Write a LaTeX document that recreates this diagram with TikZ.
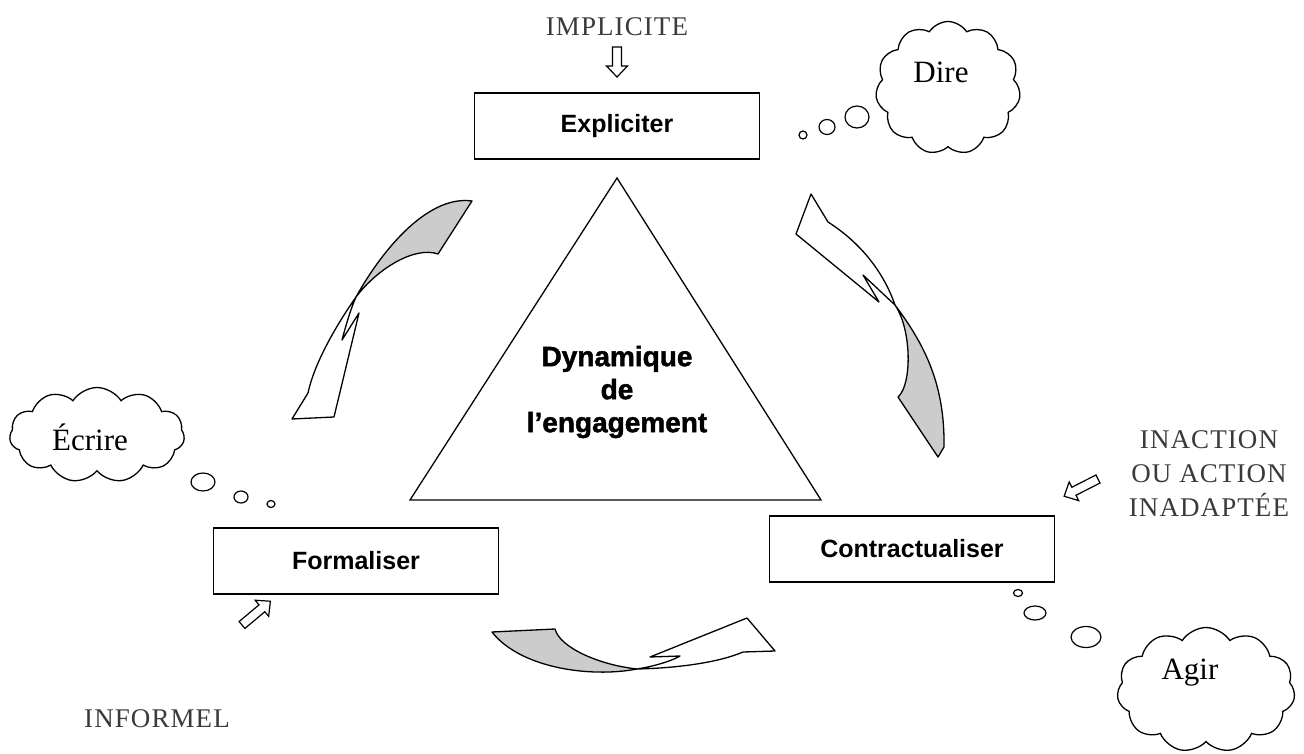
\documentclass[tikz,border=0pt]{standalone}
\usepackage{fontspec}
\setmainfont{Liberation Serif}
\newfontfamily\boxfont{Liberation Sans}
\newfontfamily\heavyfont[FakeBold=1.6]{Liberation Sans Bold}
\newfontfamily\capfont[LetterSpace=4]{Liberation Serif}
\usepackage{xcolor}
\usepackage{tikz}
\usetikzlibrary{shapes.symbols}
\definecolor{bg}{HTML}{FFFFFF}
\definecolor{ink}{HTML}{000000}
\definecolor{backgray}{HTML}{CCCCCC}
\definecolor{capgray}{HTML}{3A3A3A}
\tikzset{
  stage/.style={draw=ink, line width=1.3pt, minimum width=285pt, minimum height=66pt, inner sep=0pt, font=\boxfont\bfseries\fontsize{25}{29}\selectfont},
  core/.style={align=center, font=\heavyfont\fontsize{28}{33}\selectfont},
  thought/.style={cloud, draw=ink, line width=1.3pt, cloud puffs=11, cloud puff arc=115, aspect=1.2, inner sep=0pt},
  bubble/.style={draw=ink, line width=1.2pt},
  say/.style={font=\fontsize{31}{36}\selectfont},
  margtext/.style={text=capgray, align=center, font=\capfont\fontsize{27}{34}\selectfont},
  ribbonback/.style={draw=ink, fill=backgray, line width=1.3pt, line join=round},
  ribbonfront/.style={draw=ink, fill=bg, line width=1.3pt, line join=round},
  hollow/.pic={\draw[line width=1.2pt] (0,-4.5) -- (#1-11,-4.5) -- (#1-11,-10.5) -- (#1,0) -- (#1-11,10.5) -- (#1-11,4.5) -- (0,4.5) -- cycle;}
}

\begin{document}
\begin{tikzpicture}[x=1pt, y=-1pt]
  \useasboundingbox[fill=bg] (0,0) rectangle (1304,754);
  % stages
  \node[stage] (expl) at (617,126) {Expliciter};
  \node[stage] (form) at (356,561) {Formaliser};
  \node[stage] (contr) at (912,549) {Contractualiser};
  % triangle
  \coordinate (top) at (617,178);
  \coordinate (bl) at (410,500);
  \coordinate (br) at (821,500);
  \draw[line width=1.3pt] (top) -- (br) -- (bl) -- cycle;
  \node[core] (dyn) at (617,392) {Dynamique\\de\\l’engagement};
  % curved ribbons
  \draw[ribbonback] (356,297) .. controls (385,245) and (430,195) .. (472,201) -- (438,254) .. controls (415,246) and (378,268) .. (356,297) -- cycle;
  \draw[ribbonfront] (356,297) .. controls (340,320) and (315,360) .. (308,393) -- (292,419) -- (334,417) -- (359,313) -- (342,340) .. controls (346,325) and (351,308) .. (356,297) -- cycle;
  \draw[ribbonfront] (811,194) -- (828,222) .. controls (850,236) and (880,262) .. (895,305) -- (863,275) -- (879,302) -- (796,234) -- cycle;
  \draw[ribbonback] (895,305) .. controls (925,345) and (945,385) .. (944,447) -- (938,457) -- (898,397) .. controls (912,385) and (912,330) .. (895,305) -- cycle;
  \draw[ribbonback] (492,632) -- (555,629) .. controls (560,648) and (600,665) .. (637,669) .. controls (590,678) and (520,668) .. (492,632) -- cycle;
  \draw[ribbonfront] (637,669) .. controls (680,668) and (720,662) .. (743,652) -- (775,651) -- (747,618) -- (650,657) -- (680,656) .. controls (670,662) and (650,667) .. (637,669) -- cycle;
  % side words
  \node[margtext] (impl) at (617,27) {IMPLICITE};
  \node[margtext] (infor) at (157,719) {INFORMEL};
  \node[margtext] (inact) at (1209,474) {INACTION\\OU ACTION\\INADAPTÉE};
  \pic[rotate=-90] at (617,47) {hollow=30};
  \pic[rotate=40] at (242,625) {hollow=37};
  \pic[rotate=207] at (1098,479) {hollow=38};
  % thought clouds
  \node[thought, minimum width=145pt, minimum height=133pt] (dire) at (948,88) {};
  \node[say] (diret) at (941,72) {Dire};
  \draw[bubble] (857,117) ellipse [x radius=12, y radius=11];
  \draw[bubble] (827,127) ellipse [x radius=8, y radius=7.5];
  \draw[bubble] (803,135) ellipse [x radius=4, y radius=4];
  \node[thought, minimum width=175pt, minimum height=95pt] (ecr) at (97,435) {};
  \node[say] (ecrt) at (90,437) {Écrire};
  \draw[bubble] (203,482) ellipse [x radius=12, y radius=9];
  \draw[bubble] (241,497) ellipse [x radius=7, y radius=6];
  \draw[bubble] (271,504) ellipse [x radius=4, y radius=3.5];
  \node[thought, minimum width=178pt, minimum height=125pt] (agir) at (1206,690) {};
  \node[say] (agirt) at (1190,673) {Agir};
  \draw[bubble] (1018,593) ellipse [x radius=4.5, y radius=3.5];
  \draw[bubble] (1035,613) ellipse [x radius=11, y radius=7];
  \draw[bubble] (1086,637) ellipse [x radius=15, y radius=10.5];
\end{tikzpicture}
\end{document}
